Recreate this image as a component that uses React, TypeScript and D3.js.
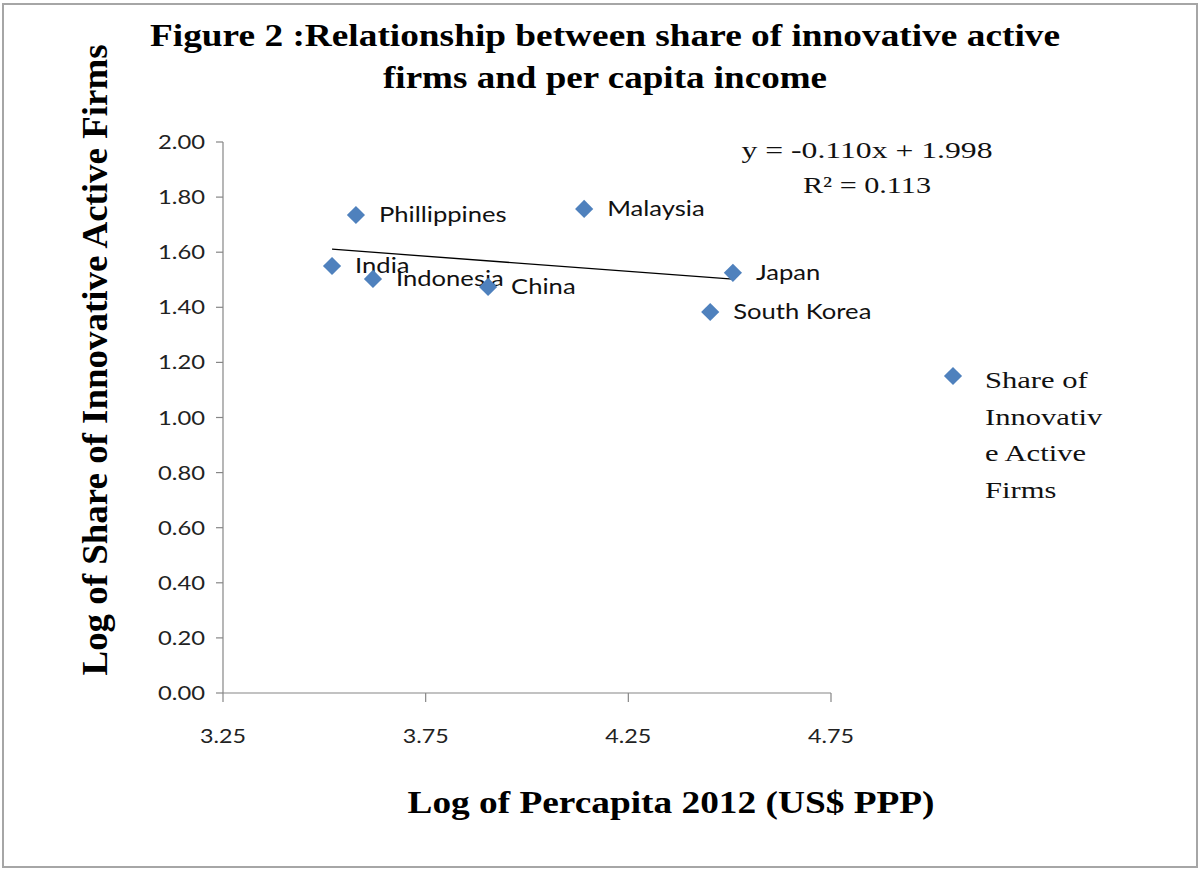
import React from "react";
import * as d3 from "d3";

const countries = ["India", "Phillippines", "Indonesia", "China", "Malaysia", "Japan", "South Korea"];
const logIncome = [3.519, 3.578, 3.62, 3.904, 4.141, 4.508, 4.452];
const logShare = [1.55, 1.735, 1.503, 1.474, 1.757, 1.525, 1.383];

const xTicks = [3.25, 3.75, 4.25, 4.75];
const yTicks = [0, 0.2, 0.4, 0.6, 0.8, 1.0, 1.2, 1.4, 1.6, 1.8, 2.0];

const trendSlope = -0.11;
const trendIntercept = 1.998;
const equationLines = ["y = -0.110x + 1.998", "R² = 0.113"];
const legendLines = ["Share of", "Innovativ", "e Active", "Firms"];
const titleLines = [
  "Figure  2 :Relationship between share of innovative active",
  "firms and per capita income",
];

const W = 1199;
const H = 870;
const BLUE = "#4F81BD";
const AXIS = "#868686";
const SANS = "Lato, 'Open Sans', sans-serif";
const SERIF = "'Liberation Serif', 'DejaVu Serif', serif";

export default function App() {
  const x = d3.scaleLinear().domain([3.25, 4.75]).range([223, 831]);
  const y = d3.scaleLinear().domain([0, 2]).range([693, 142]);

  const diamond = d3.symbol().type(d3.symbolSquare).size(165)() as string;

  const xMin = d3.min(logIncome) as number;
  const xMax = d3.max(logIncome) as number;
  const trend = d3.line<number>()
    .x((v) => x(v))
    .y((v) => y(trendSlope * v + trendIntercept));

  const titleLen = [910, 444];
  const eqLen = [251, 128];

  return (
    <svg
      width={W}
      height={H}
      style={{ position: "absolute", left: 0, top: 0, background: "#fff" }}
    >
      <rect x={0} y={0} width={W} height={H} fill="#fff" />
      <rect x={3} y={4} width={1194} height={863} fill="none" stroke="#a6a6a6" strokeWidth={2} />

      {/* Title */}
      {titleLines.map((t, i) => (
        <text
          key={i}
          x={605}
          y={46 + i * 42}
          textAnchor="middle"
          fontFamily={SERIF}
          fontWeight="bold"
          fontSize={31}
          textLength={titleLen[i]}
          lengthAdjust="spacingAndGlyphs"
        >
          {t}
        </text>
      ))}

      {/* Y axis */}
      <line x1={223} x2={223} y1={142} y2={693} stroke={AXIS} strokeWidth={1.2} />
      {yTicks.map((t) => (
        <g key={t}>
          <line x1={216} x2={223} y1={y(t)} y2={y(t)} stroke={AXIS} strokeWidth={1.2} />
          <text
            x={205}
            y={y(t)}
            dy="0.35em"
            textAnchor="end"
            fontFamily={SANS}
            fontSize={20}
            fill="#222"
            textLength={47}
            lengthAdjust="spacingAndGlyphs"
          >
            {t.toFixed(2)}
          </text>
        </g>
      ))}

      {/* X axis */}
      <line x1={223} x2={831} y1={693} y2={693} stroke={AXIS} strokeWidth={1.2} />
      {xTicks.map((t) => (
        <g key={t}>
          <line x1={x(t)} x2={x(t)} y1={693} y2={702} stroke={AXIS} strokeWidth={1.2} />
          <text
            x={x(t)}
            y={736}
            dy="0.35em"
            textAnchor="middle"
            fontFamily={SANS}
            fontSize={20}
            fill="#222"
            textLength={46}
            lengthAdjust="spacingAndGlyphs"
          >
            {t.toFixed(2)}
          </text>
        </g>
      ))}

      {/* Axis titles */}
      <text
        x={671}
        y={813}
        textAnchor="middle"
        fontFamily={SERIF}
        fontWeight="bold"
        fontSize={31}
        textLength={527}
        lengthAdjust="spacingAndGlyphs"
      >
        Log of Percapita 2012 (US$ PPP)
      </text>
      <g transform="translate(107, 360) rotate(-90)">
        <text
          x={0}
          y={0}
          textAnchor="middle"
          fontFamily={SERIF}
          fontWeight="bold"
          fontSize={36}
          textLength={631}
          lengthAdjust="spacingAndGlyphs"
        >
          Log of Share of Innovative Active Firms
        </text>
      </g>

      {/* Trendline */}
      <path d={trend([xMin, xMax]) as string} stroke="#000" strokeWidth={1.3} fill="none" />

      {/* Points */}
      {countries.map((c, i) => (
        <g key={c}>
          <path
            d={diamond}
            transform={`translate(${x(logIncome[i])}, ${y(logShare[i])}) rotate(45)`}
            fill={BLUE}
          />
          <g transform={`translate(${x(logIncome[i]) + 23}, ${y(logShare[i])}) scale(1.22, 1)`}>
            <text x={0} y={0} dy="0.35em" fontFamily={SANS} fontSize={21} fill="#111">
              {c}
            </text>
          </g>
        </g>
      ))}

      {/* Equation */}
      {equationLines.map((t, i) => (
        <text
          key={i}
          x={867}
          y={150 + i * 35}
          dy="0.35em"
          textAnchor="middle"
          fontFamily={SERIF}
          fontSize={23}
          fill="#111"
          textLength={eqLen[i]}
          lengthAdjust="spacingAndGlyphs"
        >
          {t}
        </text>
      ))}

      {/* Legend */}
      <path d={diamond} transform="translate(953, 376) rotate(45)" fill={BLUE} />
      {legendLines.map((t, i) => (
        <g key={i} transform={`translate(985, ${380 + i * 36.7}) scale(1.33, 1)`}>
          <text x={0} y={0} dy="0.35em" fontFamily={SERIF} fontSize={23} fill="#111">
            {t}
          </text>
        </g>
      ))}
    </svg>
  );
}
